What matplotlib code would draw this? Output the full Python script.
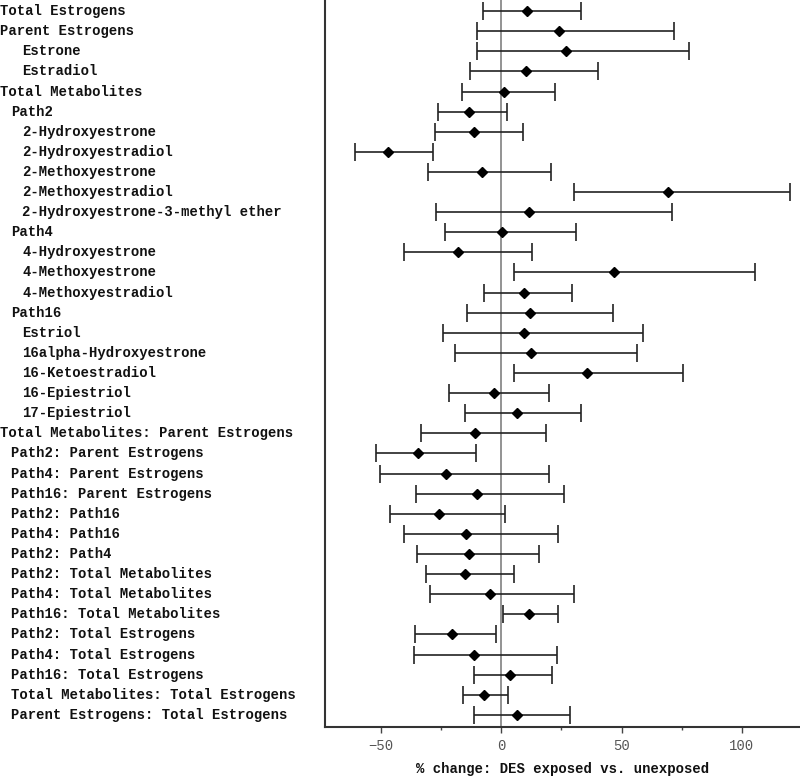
import matplotlib
matplotlib.use("Agg")
import matplotlib.pyplot as plt
import matplotlib.transforms as mtransforms
from matplotlib.ticker import MultipleLocator

labels = [
    "Total Estrogens", "Parent Estrogens", "Estrone", "Estradiol",
    "Total Metabolites", "Path2", "2-Hydroxyestrone", "2-Hydroxyestradiol",
    "2-Methoxyestrone", "2-Methoxyestradiol", "2-Hydroxyestrone-3-methyl ether",
    "Path4", "4-Hydroxyestrone", "4-Methoxyestrone", "4-Methoxyestradiol",
    "Path16", "Estriol", "16alpha-Hydroxyestrone", "16-Ketoestradiol",
    "16-Epiestriol", "17-Epiestriol",
    "Total Metabolites: Parent Estrogens", "Path2: Parent Estrogens",
    "Path4: Parent Estrogens", "Path16: Parent Estrogens", "Path2: Path16",
    "Path4: Path16", "Path2: Path4", "Path2: Total Metabolites",
    "Path4: Total Metabolites", "Path16: Total Metabolites",
    "Path2: Total Estrogens", "Path4: Total Estrogens", "Path16: Total Estrogens",
    "Total Metabolites: Total Estrogens", "Parent Estrogens: Total Estrogens",
]
indent = [0, 0, 2, 2, 0, 1, 2, 2, 2, 2, 2, 1, 2, 2, 2, 1, 2, 2, 2, 2, 2,
          0, 1, 1, 1, 1, 1, 1, 1, 1, 1, 1, 1, 1, 1, 1]

estimate = [10.7, 24.2, 26.7, 10.3, 1.2, -13.4, -11.3, -47.0, -8.2, 69.2, 11.6,
            0.1, -18.1, 47.0, 9.6, 12.1, 9.6, 12.3, 35.8, -3.1, 6.4,
            -11.1, -34.6, -23.1, -9.9, -26.1, -14.5, -13.5, -14.9, -4.5, 11.6,
            -20.7, -11.5, 3.5, -7.3, 6.6]
lower = [-7.6, -10.2, -9.9, -13.2, -16.3, -26.4, -27.6, -60.7, -30.3, 30.1, -27.2,
         -23.3, -40.5, 5.2, -7.3, -14.2, -24.4, -19.3, 5.2, -21.8, -14.9,
         -33.2, -52.1, -50.5, -35.5, -46.2, -40.6, -35.2, -31.4, -29.8, 0.9,
         -35.9, -36.4, -11.4, -16.1, -11.4]
upper = [33.0, 71.9, 77.9, 40.2, 22.5, 2.3, 9.2, -28.6, 20.7, 120.0, 71.0,
         31.2, 12.7, 105.6, 29.4, 46.6, 58.9, 56.4, 75.7, 19.9, 33.2,
         18.5, -10.5, 20.0, 26.0, 1.7, 23.6, 15.6, 5.2, 30.3, 23.6,
         -2.0, 23.3, 21.0, 2.6, 28.6]

xticks = [-50, 0, 50, 100]
xlabel = "% change: DES exposed vs. unexposed"

W, H = 800, 776
fig = plt.figure(figsize=(W / 100, H / 100), dpi=100)
ax = fig.add_axes([325 / W, 1 - 727 / H, 1 - 325 / W, 727 / H])

ypos = list(range(len(labels)))
err_lo = [e - l for e, l in zip(estimate, lower)]
err_hi = [u - e for e, u in zip(estimate, upper)]

ax.axvline(0, color="#8a8a8a", lw=1.3, zorder=1)
ax.errorbar(estimate, ypos, xerr=[err_lo, err_hi], fmt="D", color="black",
            ecolor="#222222", elinewidth=1.2, capsize=6.5, capthick=1.2,
            markersize=5, zorder=3)

ax.set_xlim(-73.3, 124.2)
ax.set_ylim(35.6, -0.55)
ax.set_yticks([])
ax.set_xticks(xticks)
ax.xaxis.set_minor_locator(MultipleLocator(25))
ax.tick_params(axis="x", which="major", length=4, width=1, color="#444444",
               labelcolor="#555555", labelsize=10, pad=5)
ax.tick_params(axis="x", which="minor", length=2, width=1, color="#444444")
for lab in ax.get_xticklabels():
    lab.set_family(["Liberation Mono", "DejaVu Sans Mono"])

for s in ["top", "right"]:
    ax.spines[s].set_visible(False)
for s in ["left", "bottom"]:
    ax.spines[s].set_color("#333333")
    ax.spines[s].set_linewidth(1.5)

ax.set_xlabel(xlabel, family=["Liberation Mono", "DejaVu Sans Mono"],
              fontweight="bold", fontsize=10, labelpad=6, color="#111111")

trans = mtransforms.blended_transform_factory(fig.transFigure, ax.transData)
for y, lab, ind in zip(ypos, labels, indent):
    fig.text(ind * 11.2 / W, y, lab, transform=trans, ha="left", va="center",
             family=["Liberation Mono", "DejaVu Sans Mono"], fontweight="bold",
             fontsize=10, color="#111111")

fig.savefig("out.png", dpi=100)
